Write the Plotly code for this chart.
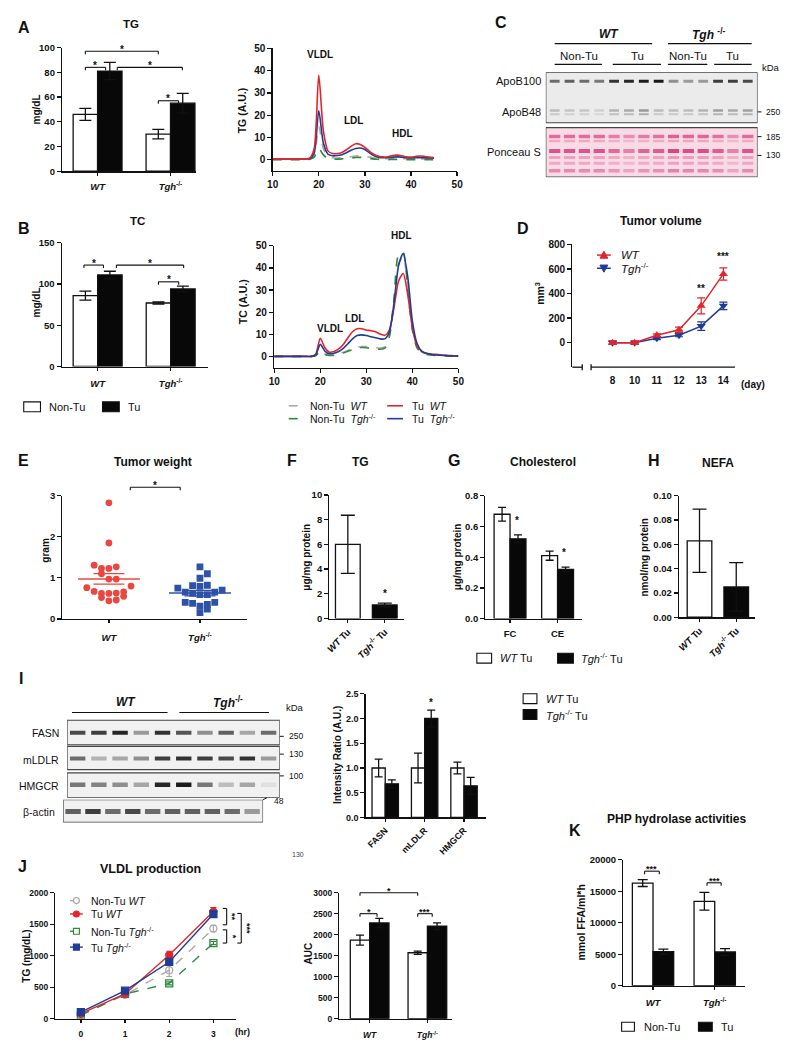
import numpy as np
import plotly.graph_objects as go

W, H = 800, 1057
FONT = "Liberation Sans, Arial, Helvetica, sans-serif"
INK = "#111111"
RED = "#e3252b"
BLUE = "#1f3d97"
GREEN = "#2f8a3e"
GRAY = "#a9a9a9"
DOT_RED = "#ea4741"
DOT_BLUE = "#2d52a8"
BARGAP = 0.33
OFF = (1 - BARGAP) / 4

# =========================== DATA ===========================
genotypes = ["WT", "Tgh-/-"]
genotype_ticks = ["<i>WT</i>", "<i>Tgh</i><sup>-/-</sup>"]

# A: plasma TG (mg/dL)
plasma_tg_nontu = [46, 30]
plasma_tg_nontu_sem = [4.8, 3.8]
plasma_tg_tu = [81, 55]
plasma_tg_tu_sem = [7.0, 8.0]

# B: plasma TC (mg/dL)
plasma_tc_nontu = [86, 77]
plasma_tc_nontu_sem = [5.5, 1.2]
plasma_tc_tu = [111, 94]
plasma_tc_tu_sem = [4.5, 3.5]

# A right: FPLC TG profile
tg_fraction = list(range(10, 46))
tg_fplc_nontu_wt = [0.2, 0.2, 0.2, 0.2, 0.2, 0.2, 0.2, 0.2, 0.4, 2, 15, 5, 1.5, 0.9, 0.8, 0.9, 1.1, 1.4,
                    1.7, 1.8, 1.6, 1.2, 0.8, 0.6, 0.5, 0.5, 0.6, 0.6, 0.6, 0.5, 0.4, 0.4, 0.4, 0.4, 0.4, 0.3]
tg_fplc_nontu_tgh = [0.05, 0.05, 0.05, 0.05, 0.05, 0.05, 0.05, 0.05, 0.2, 1.2, 5, 2.2, 0.6, 0.3, 0.3, 0.4, 0.6,
                     0.8, 1.0, 1.1, 0.9, 0.6, 0.3, 0.2, 0.1, 0.1, 0.2, 0.2, 0.2, 0.1, 0.1, 0.1, 0.1, 0.1, 0.1, 0.1]
tg_fplc_tu_wt = [0.3, 0.3, 0.3, 0.3, 0.3, 0.3, 0.3, 0.4, 0.7, 5, 38, 13, 4, 2.8, 2.8, 3.3, 4.5, 6.0,
                 7.2, 6.9, 5.6, 3.8, 2.4, 1.6, 1.3, 1.4, 1.9, 2.1, 1.8, 1.3, 1.2, 1.5, 1.7, 1.5, 1.2, 1.0]
tg_fplc_tu_tgh = [0.3, 0.3, 0.3, 0.3, 0.3, 0.3, 0.3, 0.35, 0.5, 3, 22, 7.5, 2.5, 1.8, 1.9, 2.3, 3.2, 4.3,
                  5.1, 5.3, 4.6, 3.1, 1.8, 1.1, 0.9, 1.0, 1.2, 1.3, 1.2, 0.9, 0.8, 0.9, 1.0, 0.9, 0.8, 0.7]

# B right: FPLC TC profile
tc_fraction = list(range(10, 51))
tc_fplc_nontu_wt = [0.1, 0.1, 0.1, 0.1, 0.1, 0.1, 0.1, 0.1, 0.1,
                    0.5, 3.0, 1.2, 0.6, 0.8, 1.3, 2.0, 2.8, 3.6, 4.2, 4.5, 4.5, 4.3, 4.0, 3.9, 4.4,
                    9, 24, 42, 45, 32, 14, 5, 2.2, 1.4, 1.1, 1.0, 0.8, 0.6, 0.5, 0.4, 0.3]
tc_fplc_nontu_tgh = [0.1, 0.1, 0.1, 0.1, 0.1, 0.1, 0.1, 0.1, 0.1,
                     0.4, 2.4, 1.0, 0.5, 0.6, 1.0, 1.6, 2.4, 3.2, 3.8, 4.1, 4.0, 3.7, 3.4, 3.3, 3.8,
                     9, 26, 46, 47, 30, 12, 4, 1.8, 1.0, 0.7, 0.5, 0.4, 0.3, 0.2, 0.2, 0.1]
tc_fplc_tu_wt = [0.1, 0.1, 0.1, 0.1, 0.1, 0.1, 0.1, 0.1, 0.1,
                 1.0, 8.3, 4.0, 2.0, 2.3, 3.5, 5.5, 8.5, 11.2, 12.6, 12.6, 12.0, 11.7, 11.2, 10.2, 9.6,
                 12, 22, 34, 37.5, 28, 13, 5, 2.5, 1.5, 1.2, 1.0, 0.8, 0.6, 0.5, 0.4, 0.3]
tc_fplc_tu_tgh = [0.1, 0.1, 0.1, 0.1, 0.1, 0.1, 0.1, 0.1, 0.1,
                  0.8, 5.5, 2.5, 1.3, 1.5, 2.3, 3.7, 5.8, 8.0, 9.5, 9.8, 9.5, 9.0, 8.5, 8.0, 8.0,
                  11, 24, 41, 46.5, 36, 16, 6, 2.5, 1.5, 1.0, 0.8, 0.6, 0.5, 0.4, 0.3, 0.2]

# C: western blot band intensities (0-1), 14 lanes
apob100_band = [0.55, 0.6, 0.55, 0.5, 0.8, 0.85, 0.9, 0.92, 0.4, 0.35, 0.35, 0.75, 0.75, 0.7]
apob48_band = [0.25, 0.2, 0.2, 0.15, 0.3, 0.35, 0.45, 0.25, 0.25, 0.25, 0.3, 0.4, 0.35, 0.4]
ponceau_load = [0.9, 0.9, 0.9, 0.9, 0.75, 0.6, 0.8, 0.85, 1.0, 0.95, 0.95, 0.85, 0.6, 0.9]

# D: tumor volume (mm3)
days = ["8", "10", "11", "12", "13", "14"]
volume_wt = [0, 0, 60, 105, 300, 560]
volume_wt_sem = [14, 12, 12, 22, 65, 50]
volume_tgh = [0, 0, 35, 60, 135, 300]
volume_tgh_sem = [12, 12, 10, 12, 35, 30]

# E: tumor weight (gram), with beeswarm slot
weight_wt = [2.83, 1.85, 1.31, 1.23, 1.23, 1.27, 1.10, 0.97, 0.97, 0.80, 0.76, 0.67, 0.62, 0.62,
             0.63, 0.66, 0.55, 0.52, 0.44, 0.46]
weight_wt_slot = [0, 0, -2, -1, 0, 1, -1, 0, 1, 3, -3, -2, -1, 0, 1, 2, 2, -1, 0, 1]
weight_tgh = [1.27, 1.10, 0.99, 0.75, 0.81, 0.82, 0.79, 0.65, 0.62, 0.59, 0.59, 0.65, 0.70, 0.40,
              0.38, 0.31, 0.35, 0.40, 0.24, 0.15]
weight_tgh_slot = [0, 1, 0, -3, -1, 1, 0, -2, -1, 0, 1, 2, 3, -2, -1, 0, 1, 2, 1, 0]

# F: tumor TG
tumor_groups = ["<i>WT</i> Tu", "<i>Tgh</i><sup>-/-</sup> Tu"]
tumor_tg = [6.0, 1.1]
tumor_tg_sem = [2.35, 0.15]

# G: tumor cholesterol
chol_types = ["FC", "CE"]
chol_wt = [0.68, 0.41]
chol_wt_sem = [0.045, 0.03]
chol_tgh = [0.52, 0.32]
chol_tgh_sem = [0.025, 0.015]

# H: tumor NEFA
tumor_nefa = [0.063, 0.025]
tumor_nefa_sem = [0.026, 0.020]

# I: western blot (10 lanes) + quantification
fasn_band = [0.7, 0.75, 0.85, 0.35, 0.8, 0.65, 0.4, 0.6, 0.3, 0.55]
mldlr_band = [0.55, 0.25, 0.3, 0.4, 0.75, 0.8, 0.75, 0.7, 0.8, 0.35]
hmgcr_band = [0.5, 0.45, 0.4, 0.3, 0.85, 0.9, 0.5, 0.2, 0.3, 0.05]
actin_band = [0.6, 0.75, 0.55, 0.7, 0.55, 0.6, 0.6, 0.6, 0.55, 0.35]
proteins = ["FASN", "mLDLR", "HMGCR"]
ratio_wt = [1.0, 1.0, 1.0]
ratio_wt_sem = [0.18, 0.3, 0.12]
ratio_tgh = [0.68, 2.0, 0.64]
ratio_tgh_sem = [0.08, 0.17, 0.17]

# J: VLDL production
hours = [0, 1, 2, 3]
vldl_nontu_wt = [63, 377, 769, 1430]
vldl_nontu_wt_sem = [10, 20, 100, 50]
vldl_tu_wt = [78, 392, 1010, 1700]
vldl_tu_wt_sem = [10, 20, 60, 65]
vldl_nontu_tgh = [52, 392, 560, 1200]
vldl_nontu_tgh_sem = [10, 15, 25, 25]
vldl_tu_tgh = [104, 444, 900, 1660]
vldl_tu_tgh_sem = [10, 20, 50, 45]
auc_nontu = [1870, 1570]
auc_nontu_sem = [120, 40]
auc_tu = [2280, 2200]
auc_tu_sem = [110, 80]

# K: PHP hydrolase activities
php_nontu = [16300, 13400]
php_nontu_sem = [550, 1400]
php_tu = [5400, 5350]
php_tu_sem = [420, 550]

# =========================== HELPERS ===========================
fig = go.Figure()
shapes, annots, axes = [], [], {}

base_axis = dict(showgrid=False, zeroline=False, showline=True, linecolor=INK, linewidth=1.3,
                 ticks="outside", ticklen=4, tickwidth=1.3, tickcolor=INK, fixedrange=True)


def tfont(size, bold=True, color=INK):
    return dict(family=FONT, size=size, color=color, weight="bold" if bold else "normal")


def setup(p, xkw=None, ykw=None, fs=10):
    s = "" if p["n"] == 1 else str(p["n"])
    xa = dict(base_axis, domain=[p["x0"] / W, p["x1"] / W], range=p["xr"], anchor="y" + s, tickfont=tfont(fs))
    ya = dict(base_axis, domain=[1 - p["y1"] / H, 1 - p["y0"] / H], range=p["yr"], anchor="x" + s,
              tickfont=tfont(fs))
    xa.update(xkw or {})
    ya.update(ykw or {})
    axes["xaxis" + s] = xa
    axes["yaxis" + s] = ya
    return "x" + s, "y" + s


def pxx(p, v):
    return p["x0"] + (v - p["xr"][0]) / (p["xr"][1] - p["xr"][0]) * (p["x1"] - p["x0"])


def pxy(p, v):
    return p["y1"] - (v - p["yr"][0]) / (p["yr"][1] - p["yr"][0]) * (p["y1"] - p["y0"])


def line_px(x0, y0, x1, y1, color=INK, width=1.1, dash=None):
    shapes.append(dict(type="line", xref="paper", yref="paper", x0=x0 / W, y0=1 - y0 / H, x1=x1 / W,
                       y1=1 - y1 / H, line=dict(color=color, width=width, dash=dash)))


def rect_px(x0, y0, x1, y1, fill, lc=INK, lw=1.1):
    shapes.append(dict(type="rect", xref="paper", yref="paper", x0=x0 / W, y0=1 - y1 / H, x1=x1 / W,
                       y1=1 - y0 / H, fillcolor=fill, line=dict(color=lc, width=lw)))


def text_px(x, y, s, size=10, bold=False, anchor="center", angle=0, color=INK, yanchor="middle"):
    annots.append(dict(xref="paper", yref="paper", x=x / W, y=1 - y / H, text=s, showarrow=False,
                       xanchor=anchor, yanchor=yanchor, textangle=angle,
                       font=tfont(size, bold, color)))


def bracket(p, xa, xb, yv, label, drop=3, size=10):
    X0, X1, Y = pxx(p, xa), pxx(p, xb), pxy(p, yv)
    line_px(X0, Y + drop, X0, Y)
    line_px(X0, Y, X1, Y)
    line_px(X1, Y, X1, Y + drop)
    text_px((X0 + X1) / 2, Y - 2, label, size=size, bold=True)


def marker_px(x, y, kind, color, size=7, filled=True):
    r = size / 2
    fill = color if filled else "white"
    if kind in ("circle", "square"):
        shapes.append(dict(type="circle" if kind == "circle" else "rect", xref="paper", yref="paper",
                           x0=(x - r) / W, x1=(x + r) / W, y0=1 - (y + r) / H, y1=1 - (y - r) / H,
                           fillcolor=fill, line=dict(color=color, width=1.2)))
    else:
        if kind == "up":
            pts = [(x, y - r), (x - r, y + r * 0.8), (x + r, y + r * 0.8)]
        else:
            pts = [(x, y + r), (x - r, y - r * 0.8), (x + r, y - r * 0.8)]
        path = "M " + " L ".join(f"{a / W},{1 - b / H}" for a, b in pts) + " Z"
        shapes.append(dict(type="path", xref="paper", yref="paper", path=path, fillcolor=fill,
                           line=dict(color=color, width=1)))


def bar_pair(p, xa, ya, v1, e1, v2, e2, cap=5):
    idx = list(range(len(v1)))
    fig.add_trace(go.Bar(x=idx, y=v1, marker=dict(color="white", line=dict(color=INK, width=1.3)),
                         error_y=dict(type="data", array=e1, color=INK, thickness=1.3, width=cap),
                         xaxis=xa, yaxis=ya, showlegend=False))
    fig.add_trace(go.Bar(x=idx, y=v2, marker=dict(color="#080808", line=dict(color=INK, width=1.3)),
                         error_y=dict(type="data", array=e2, color=INK, thickness=1.3, width=cap),
                         xaxis=xa, yaxis=ya, showlegend=False))


def bar_single(p, xa, ya, v, e, cap=5):
    fig.add_trace(go.Bar(x=list(range(len(v))), y=v,
                         marker=dict(color=["white", "#080808"], line=dict(color=INK, width=1.3)),
                         error_y=dict(type="data", array=e, color=INK, thickness=1.3, width=cap),
                         xaxis=xa, yaxis=ya, showlegend=False))


def gray_of(v, bg=236):
    g = max(0, int(bg - 232 * v))
    return f"rgb({g},{g},{g})"


def pink_of(v):
    bg = np.array([248, 214, 226])
    dk = np.array([214, 45, 115])
    c = bg + (dk - bg) * v
    return f"rgb({int(c[0])},{int(c[1])},{int(c[2])})"


def band_row(xa, ya, colors, yrow, size, width):
    fig.add_trace(go.Scatter(x=list(range(len(colors))), y=[yrow] * len(colors), mode="markers",
                             marker=dict(symbol="line-ew", size=size, line=dict(width=width, color=colors)),
                             xaxis=xa, yaxis=ya, showlegend=False, hoverinfo="skip"))


# =========================== PANEL A ===========================
pA = dict(n=1, x0=57, x1=193, y0=42, y1=167, xr=[-0.486, 1.351], yr=[0, 100])
xa, ya = setup(pA, dict(tickvals=[0, 1], ticktext=genotype_ticks, ticklen=3, ticklabelstandoff=3),
               dict(tickvals=[0, 20, 40, 60, 80, 100]), fs=9.5)
bar_pair(pA, xa, ya, plasma_tg_nontu, plasma_tg_nontu_sem, plasma_tg_tu, plasma_tg_tu_sem, cap=6)
bracket(pA, -OFF, 0.11, 84, "*")
bracket(pA, -OFF, 1 - OFF, 97, "*")
bracket(pA, 0.27, 1 + OFF - 0.005, 84, "*")
bracket(pA, 1 - OFF, 1.11, 57, "*")
text_px(18, 22, "A", 16, True)
text_px(127, 18, "TG", 11.5, True)
text_px(31, 105, "mg/dL", 10, True, angle=-90)

pA2 = dict(n=2, x0=270.7, x1=458, y0=42.7, y1=166.7, xr=[10, 50], yr=[-5, 50])
xa, ya = setup(pA2, dict(tickvals=[10, 20, 30, 40, 50]), dict(tickvals=[0, 10, 20, 30, 40, 50]), fs=10)
for ys, col, dash in [(tg_fplc_nontu_wt, GRAY, "dash"), (tg_fplc_nontu_tgh, GREEN, "dash"),
                      (tg_fplc_tu_tgh, BLUE, "solid"), (tg_fplc_tu_wt, RED, "solid")]:
    fig.add_trace(go.Scatter(x=tg_fraction, y=ys, mode="lines",
                             line=dict(color=col, width=1.6, dash=dash, shape="spline", smoothing=0.7),
                             xaxis=xa, yaxis=ya, showlegend=False))
text_px(240, 105, "TG (A.U.)", 10.5, True, angle=-90)
text_px(319, 49, "VLDL", 10, True)
text_px(353, 116, "LDL", 10, True)
text_px(403, 129, "HDL", 10, True)

# =========================== PANEL B ===========================
pB = dict(n=4, x0=56.7, x1=205, y0=239.3, y1=364.3, xr=[-0.49, 1.51], yr=[0, 150])
xa, ya = setup(pB, dict(tickvals=[0, 1], ticktext=genotype_ticks, ticklen=3, ticklabelstandoff=5),
               dict(tickvals=[0, 50, 100, 150]), fs=9.5)
bar_pair(pB, xa, ya, plasma_tc_nontu, plasma_tc_nontu_sem, plasma_tc_tu, plasma_tc_tu_sem, cap=6)
bracket(pB, -OFF - 0.02, 0.08, 123, "*")
bracket(pB, 0.257, 1 + OFF + 0.01, 123, "*")
bracket(pB, 1 - OFF, 1.11, 102.7, "*")
text_px(18, 225, "B", 16, True)
text_px(133, 217, "TC", 11.5, True)
text_px(31, 300, "mg/dL", 10, True, angle=-90)
rect_px(18, 400, 35, 410, "white")
text_px(42, 405, "Non-Tu", 11, anchor="left")
rect_px(98, 400, 115, 410, "#080808")
text_px(122, 405, "Tu", 11, anchor="left")

pB2 = dict(n=5, x0=272.3, x1=459.3, y0=242.3, y1=365.5, xr=[10, 50], yr=[-5, 50])
xa, ya = setup(pB2, dict(tickvals=[10, 20, 30, 40, 50]), dict(tickvals=[0, 10, 20, 30, 40, 50]), fs=10)
for ys, col, dash in [(tc_fplc_nontu_wt, GRAY, "dash"), (tc_fplc_nontu_tgh, GREEN, "dash"),
                      (tc_fplc_tu_wt, RED, "solid"), (tc_fplc_tu_tgh, BLUE, "solid")]:
    fig.add_trace(go.Scatter(x=tc_fraction, y=ys, mode="lines",
                             line=dict(color=col, width=1.6, dash=dash, shape="spline", smoothing=0.7),
                             xaxis=xa, yaxis=ya, showlegend=False))
text_px(241, 299, "TC (A.U.)", 10.5, True, angle=-90)
text_px(402, 232, "HDL", 10, True)
text_px(354, 316, "LDL", 10, True)
text_px(329, 326, "VLDL", 10, True)
line_px(287, 404, 301, 404, GRAY, 1.6, "dash")
text_px(307, 404, "Non-Tu  <i>WT</i>", 10.5, anchor="left")
line_px(387, 404, 403, 404, RED, 1.6)
text_px(410, 404, "Tu  <i>WT</i>", 10.5, anchor="left")
line_px(287, 417, 301, 417, GREEN, 1.6, "dash")
text_px(307, 417, "Non-Tu  <i>Tgh</i><sup>-/-</sup>", 10.5, anchor="left")
line_px(387, 417, 403, 417, BLUE, 1.6)
text_px(410, 417, "Tu  <i>Tgh</i><sup>-/-</sup>", 10.5, anchor="left")

# =========================== PANEL C (blot) ===========================
pC = dict(n=3, x0=548, x1=763, y0=67, y1=173, xr=[-0.6, 13.66], yr=[0, 106])
xa, ya = setup(pC, dict(visible=False), dict(visible=False))
shapes.append(dict(type="rect", xref=xa, yref=ya, x0=-0.6, x1=13.66, y0=55, y1=106, layer="below",
                   fillcolor="#ebebeb", line=dict(color="#444", width=1.2)))
shapes.append(dict(type="rect", xref=xa, yref=ya, x0=-0.6, x1=13.66, y0=0, y1=50, layer="below",
                   fillcolor="#f8dbe5", line=dict(color="#444", width=1.2)))
band_row(xa, ya, [gray_of(v) for v in apob100_band], 97, 7, 3)
band_row(xa, ya, [gray_of(v * 0.8) for v in apob48_band], 67.5, 7, 2.5)
band_row(xa, ya, [gray_of(v * 0.6) for v in apob48_band], 63.5, 7, 2)
for yrow, strength, wid in [(41, 0.7, 3.5), (36.5, 0.3, 2.5), (26.5, 0.85, 4), (20, 0.35, 3), (14, 0.3, 3),
                            (6.5, 0.5, 3.5)]:
    band_row(xa, ya, [pink_of(min(1, strength * v)) for v in ponceau_load], yrow, 8, wid)
text_px(503, 17, "C", 16, True)
text_px(612, 28, "<i>WT</i>", 12, True)
line_px(557, 38, 656, 38, INK, 1.1)
text_px(713, 28, "<i>Tgh</i> <sup>-/-</sup>", 12, True)
line_px(672, 38, 757, 38, INK, 1.1)
for cx, x0, x1, lab in [(582, 557, 605, "Non-Tu"), (641, 616, 665, "Tu"), (692, 672, 712, "Non-Tu"),
                        (738, 719, 757, "Tu")]:
    text_px(cx, 51, lab, 11.5)
    line_px(x0, 59, x1, 59, INK, 1.1)
text_px(777, 62, "kDa", 9.5)
text_px(545, 76, "ApoB100", 11, anchor="right")
text_px(545, 107, "ApoB48", 11, anchor="right")
text_px(545, 148, "Ponceau S", 11, anchor="right")
for yy, lab in [(107, "250"), (132, "185"), (151, "130")]:
    line_px(763, yy, 767, yy, INK, 1)
    text_px(770, yy, lab, 8.5, anchor="left")

# =========================== PANEL D ===========================
pD = dict(n=6, x0=575, x1=740, y0=241, y1=365, xr=[-1.81, 5.52], yr=[-200, 800])
xa, ya = setup(pD, dict(type="category", categoryorder="array", categoryarray=days, showline=False, ticks="",
                        ticklabelstandoff=6),
               dict(tickvals=[0, 200, 400, 600, 800]), fs=10)
for ys, es, col, sym in [(volume_tgh, volume_tgh_sem, BLUE, "triangle-down"),
                         (volume_wt, volume_wt_sem, RED, "triangle-up")]:
    fig.add_trace(go.Scatter(x=days, y=ys, mode="lines+markers", line=dict(color=col, width=1.5),
                             marker=dict(symbol=sym, size=8, color=col),
                             error_y=dict(type="data", array=es, color=col, thickness=1.2, width=4),
                             xaxis=xa, yaxis=ya, showlegend=False))
line_px(575, 365, 585, 365, INK, 1.3)
line_px(585, 362, 585, 368, INK, 1.3)
line_px(594, 365, 740, 365, INK, 1.3)
line_px(594, 362, 594, 368, INK, 1.3)
text_px(pxx(pD, 4), pxy(pD, 445), "**", 10, True)
text_px(pxx(pD, 5), pxy(pD, 700), "***", 10, True)
text_px(758, 382, "(day)", 10, True)
text_px(542, 290, "mm<sup>3</sup>", 10.5, True, angle=-90)
text_px(525, 225, "D", 16, True)
text_px(665, 217, "Tumor volume", 12, True)
line_px(600, 251.7, 614, 251.7, RED, 1.5)
marker_px(607, 251.7, "up", RED, 8)
text_px(622, 251.7, "<i>WT</i>", 11.5, anchor="left")
line_px(600, 265, 614, 265, BLUE, 1.5)
marker_px(607, 265, "down", BLUE, 8)
text_px(622, 265, "<i>Tgh</i><sup>-/-</sup>", 11.5, anchor="left")

# =========================== PANEL E ===========================
pE = dict(n=7, x0=57.3, x1=245, y0=495, y1=619.3, xr=[-0.51, 1.52], yr=[0, 3])
xa, ya = setup(pE, dict(tickvals=[0, 1], ticktext=genotype_ticks, ticklen=3, ticklabelstandoff=6),
               dict(tickvals=[0, 1, 2, 3]), fs=9.5)
SLOT = 0.081
for gi, (vals, slots, col, sym) in enumerate([(weight_wt, weight_wt_slot, DOT_RED, "circle"),
                                              (weight_tgh, weight_tgh_slot, DOT_BLUE, "square")]):
    xs = [gi + s * SLOT for s in slots]
    fig.add_trace(go.Scatter(x=xs, y=vals, mode="markers", marker=dict(symbol=sym, size=6.8, color=col),
                             xaxis=xa, yaxis=ya, showlegend=False))
    m = float(np.mean(vals))
    sem = float(np.std(vals, ddof=1) / np.sqrt(len(vals)))
    fig.add_trace(go.Scatter(x=[gi - 0.34, gi + 0.34], y=[m, m], mode="lines", line=dict(color=col, width=1.5),
                             xaxis=xa, yaxis=ya, showlegend=False))
    for yv in (m - sem, m + sem):
        fig.add_trace(go.Scatter(x=[gi - 0.17, gi + 0.17], y=[yv, yv], mode="lines",
                                 line=dict(color=col, width=1.3), xaxis=xa, yaxis=ya, showlegend=False))
bracket(pE, 0.235, 0.783, 3.21, "*")
text_px(18, 459, "E", 16, True)
text_px(149, 461, "Tumor weight", 12, True)
text_px(40, 550, "gram", 10, True, angle=-90)

# =========================== PANEL F ===========================
pF = dict(n=8, x0=328.3, x1=404, y0=494, y1=619, xr=[-0.5, 1.52], yr=[0, 10])
xa, ya = setup(pF, dict(tickvals=[0, 1], ticktext=tumor_groups, tickangle=-45, ticklen=3),
               dict(tickvals=[0, 2, 4, 6, 8, 10]), fs=9.5)
bar_single(pF, xa, ya, tumor_tg, tumor_tg_sem, cap=7)
text_px(pxx(pF, 1), pxy(pF, 2.0), "*", 10, True)
text_px(290, 459, "F", 16, True)
text_px(360, 461, "TG", 12, True)
text_px(305, 557, "μg/mg protein", 10, True, angle=-90)

# =========================== PANEL G ===========================
pG = dict(n=9, x0=486.7, x1=585, y0=495, y1=619, xr=[-0.518, 1.518], yr=[0, 0.8])
xa, ya = setup(pG, dict(tickvals=[0, 1], ticktext=chol_types, ticklen=3, ticklabelstandoff=3),
               dict(tickvals=[0, 0.2, 0.4, 0.6, 0.8], tickformat=".1f"), fs=9.5)
bar_pair(pG, xa, ya, chol_wt, chol_wt_sem, chol_tgh, chol_tgh_sem, cap=4)
text_px(pxx(pG, OFF - 0.03), pxy(pG, 0.64), "*", 10, True)
text_px(pxx(pG, 1 + OFF - 0.03), pxy(pG, 0.43), "*", 10, True)
text_px(455, 459, "G", 16, True)
text_px(545, 461, "Cholesterol", 12, True)
text_px(458, 557, "μg/mg protein", 10, True, angle=-90)
rect_px(478, 654, 493, 664, "white")
text_px(499, 659, "<i>WT</i> Tu", 11, anchor="left")
rect_px(560, 654, 576, 664, "#080808")
text_px(582, 659, "<i>Tgh</i><sup>-/-</sup> Tu", 11, anchor="left")

# =========================== PANEL H ===========================
pH = dict(n=10, x0=683.3, x1=760, y0=495, y1=617.7, xr=[-0.557, 1.5], yr=[0, 0.1])
xa, ya = setup(pH, dict(tickvals=[0, 1], ticktext=tumor_groups, tickangle=-45, ticklen=3),
               dict(tickvals=[0, 0.02, 0.04, 0.06, 0.08, 0.10], tickformat=".2f"), fs=9.5)
bar_single(pH, xa, ya, tumor_nefa, tumor_nefa_sem, cap=7)
text_px(658, 459, "H", 16, True)
text_px(723, 462, "NEFA", 12, True)
text_px(648, 557, "nmol/mg protein", 10, True, angle=-90)

# =========================== PANEL I ===========================
pIb = dict(n=11, x0=62, x1=278, y0=721, y1=800, xr=[-0.5, 9.53], yr=[0, 79])
xa, ya = setup(pIb, dict(visible=False), dict(visible=False))
for y0, y1 in [(53.3, 78.3), (28.3, 51.7), (0, 25)]:
    shapes.append(dict(type="rect", xref=xa, yref=ya, x0=-0.5, x1=9.53, y0=y0, y1=y1, layer="below",
                       fillcolor="#f1f1f1", line=dict(color="#444", width=1.2)))
band_row(xa, ya, [gray_of(v) for v in fasn_band], 65.5, 11, 4)
band_row(xa, ya, [gray_of(v) for v in mldlr_band], 39.5, 11, 4)
band_row(xa, ya, [gray_of(v) for v in hmgcr_band], 13, 11, 4.5)
pIa = dict(n=16, x0=58, x1=261, y0=802, y1=825, xr=[-0.5, 9.55], yr=[0, 23])
xa, ya = setup(pIa, dict(visible=False), dict(visible=False))
shapes.append(dict(type="rect", xref=xa, yref=ya, x0=-0.5, x1=9.55, y0=0, y1=23, layer="below",
                   fillcolor="#f1f1f1", line=dict(color="#444", width=1.2)))
band_row(xa, ya, [gray_of(v) for v in actin_band], 11, 11, 5)
text_px(15, 680, "I", 16, True)
text_px(122, 703, "<i>WT</i>", 12, True)
line_px(67, 714, 164, 714, INK, 1.1)
text_px(225, 703, "<i>Tgh</i><sup>-/-</sup>", 12, True)
line_px(176, 714, 267, 714, INK, 1.1)
text_px(293, 709, "kDa", 9.5)
for yy, lab in [(735, "FASN"), (761.5, "mLDLR"), (788, "HMGCR")]:
    text_px(56, yy, lab, 10.5, anchor="right")
text_px(52, 814, "β-actin", 10.5, anchor="right")
for yy, lab in [(738, "250"), (756, "130"), (778, "100")]:
    line_px(278, yy, 282, yy, INK, 1)
    text_px(285, yy, lab, 8.5, anchor="left")
line_px(261, 802, 265, 800, INK, 1)
text_px(270, 803, "48", 8.5, anchor="left")

pI = dict(n=12, x0=365, x1=487, y0=695, y1=820, xr=[-0.5, 2.55], yr=[0, 2.5])
xa, ya = setup(pI, dict(tickvals=[0, 1, 2], ticktext=proteins, tickangle=-45, ticklen=3),
               dict(tickvals=[0, 0.5, 1.0, 1.5, 2.0, 2.5], tickformat=".1f"), fs=9)
bar_pair(pI, xa, ya, ratio_wt, ratio_wt_sem, ratio_tgh, ratio_tgh_sem, cap=4)
text_px(pxx(pI, 1 + OFF), pxy(pI, 2.32), "*", 10, True)
text_px(336, 757, "Intensity Ratio (A.U.)", 10, True, angle=-90)
rect_px(525, 695, 539, 705, "white")
text_px(546, 700, "<i>WT</i> Tu", 11, anchor="left")
rect_px(525, 711, 539, 721, "#080808")
text_px(546, 716, "<i>Tgh</i><sup>-/-</sup> Tu", 11, anchor="left")
text_px(296, 857, "130", 7, color="#444")

# =========================== PANEL J ===========================
pJ = dict(n=13, x0=50, x1=233, y0=896, y1=1023.3, xr=[-0.58, 3.5], yr=[0, 2000])
xa, ya = setup(pJ, dict(tickvals=hours, ticklen=3, ticklabelstandoff=4),
               dict(tickvals=[0, 500, 1000, 1500, 2000]), fs=8.5)
for ys, es, col, dash, sym in [(vldl_nontu_wt, vldl_nontu_wt_sem, GRAY, "dash", "circle-open"),
                               (vldl_nontu_tgh, vldl_nontu_tgh_sem, GREEN, "dash", "square-open"),
                               (vldl_tu_wt, vldl_tu_wt_sem, RED, "solid", "circle"),
                               (vldl_tu_tgh, vldl_tu_tgh_sem, BLUE, "solid", "square")]:
    fig.add_trace(go.Scatter(x=hours, y=ys, mode="lines+markers", line=dict(color=col, width=1.4, dash=dash),
                             marker=dict(symbol=sym, size=7, color=col, line=dict(color=col, width=1.3)),
                             error_y=dict(type="data", array=es, color=col, thickness=1.2, width=3),
                             xaxis=xa, yaxis=ya, showlegend=False))


def vbracket(p, xv, tick, ya_, yb_, label, lx):
    X = pxx(p, xv)
    Y0, Y1 = pxy(p, ya_), pxy(p, yb_)
    line_px(X - tick, Y0, X, Y0)
    line_px(X, Y0, X, Y1)
    line_px(X - tick, Y1, X, Y1)
    text_px(X + lx, (Y0 + Y1) / 2, label, 9, True, angle=90)


vbracket(pJ, 3.3, 4, 1750, 1490, "**", 6)
vbracket(pJ, 3.3, 4, 1410, 1200, "*", 6)
vbracket(pJ, 3.63, 4, 1670, 1200, "***", 6)
text_px(240, 1037, "(hr)", 9, True)
text_px(17, 870, "J", 16, True)
text_px(147, 872, "VLDL production", 12.5, True)
text_px(20, 960, "TG (mg/dL)", 10, True, angle=-90)
for yy, col, kind, filled, dash, lab in [
        (904, GRAY, "circle", False, "dash", "Non-Tu <i>WT</i>"),
        (917.5, RED, "circle", True, None, "Tu <i>WT</i>"),
        (935, GREEN, "square", False, "dash", "Non-Tu <i>Tgh</i><sup>-/-</sup>"),
        (951, BLUE, "square", True, None, "Tu <i>Tgh</i><sup>-/-</sup>")]:
    line_px(65, yy, 78, yy, col, 1.4, dash)
    marker_px(71.5, yy, kind, col, 6, filled)
    text_px(84, yy, lab, 10.5, anchor="left")

pJ2 = dict(n=14, x0=338.3, x1=453, y0=896, y1=1023.3, xr=[-0.527, 1.43], yr=[0, 3000])
xa, ya = setup(pJ2, dict(tickvals=[0, 1], ticktext=genotype_ticks, ticklen=3, ticklabelstandoff=5),
               dict(tickvals=[0, 500, 1000, 1500, 2000, 2500, 3000]), fs=8.5)
bar_pair(pJ2, xa, ya, auc_nontu, auc_nontu_sem, auc_tu, auc_tu_sem, cap=4)
bracket(pJ2, -OFF, 1 - OFF, 3000, "*", size=9)
bracket(pJ2, -OFF, 0.128, 2500, "*", size=9)
bracket(pJ2, 1 - OFF, 1.084, 2500, "***", size=9)
text_px(307, 957, "AUC", 10, True, angle=-90)

# =========================== PANEL K ===========================
pK = dict(n=15, x0=626.7, x1=750.7, y0=862.7, y1=990, xr=[-0.482, 1.498], yr=[0, 20000])
xa, ya = setup(pK, dict(tickvals=[0, 1], ticktext=genotype_ticks, ticklen=3, ticklabelstandoff=5),
               dict(tickvals=[0, 5000, 10000, 15000, 20000], tickformat="d"), fs=9.5)
bar_pair(pK, xa, ya, php_nontu, php_nontu_sem, php_tu, php_tu_sem, cap=5)
bracket(pK, -0.137, 0.102, 18180, "***", size=9)
bracket(pK, 0.875, 1.104, 16340, "***", size=9)
text_px(578, 833, "K", 16, True)
text_px(681, 822, "PHP hydrolase activities", 12, True)
text_px(584, 926, "mmol FFA/ml*h", 10.5, True, angle=-90)
rect_px(625, 1027, 638, 1036, "white")
text_px(646, 1031.7, "Non-Tu", 11, anchor="left")
rect_px(703, 1027, 717, 1036, "#080808")
text_px(724, 1031.7, "Tu", 11, anchor="left")

# =========================== LAYOUT ===========================
fig.update_layout(width=W, height=H, margin=dict(l=0, r=0, t=0, b=0), paper_bgcolor="white",
                  plot_bgcolor="rgba(0,0,0,0)", barmode="group", bargap=BARGAP, bargroupgap=0,
                  showlegend=False, hovermode=False, font=dict(family=FONT, color=INK),
                  shapes=shapes, annotations=annots, **axes)

fig.write_html("out.html", config={"displayModeBar": False, "staticPlot": True},
               post_script="document.body.style.margin='0';")
